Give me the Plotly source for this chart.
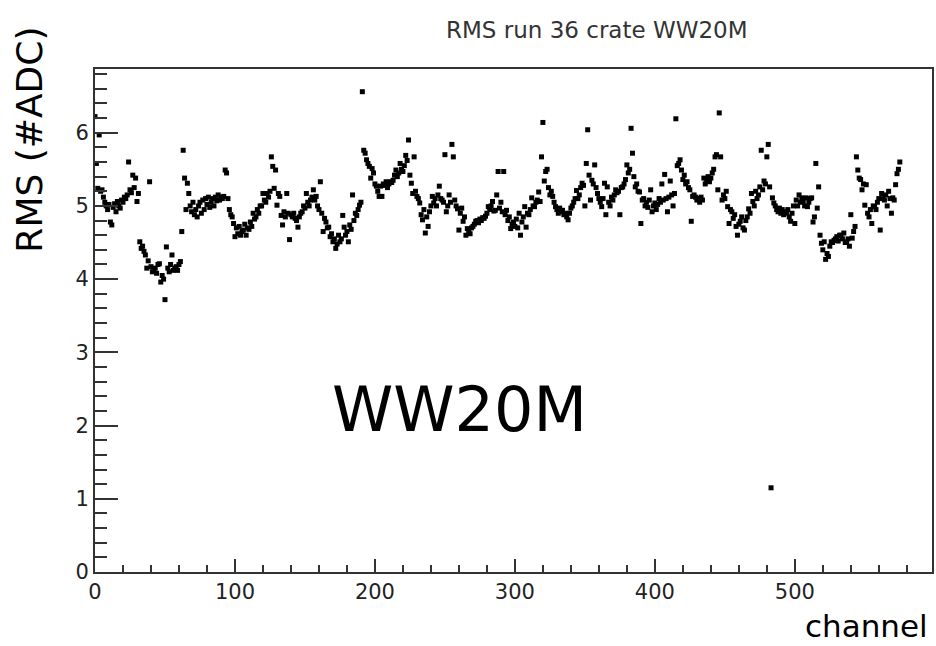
import plotly.graph_objects as go

# RMS per channel (channels 0..575)
rms = [
    6.22, 5.58, 5.24, 5.97, 5.20, 5.22, 5.12, 5.05, 5.00, 4.95, 5.02, 4.78, 4.74, 4.98, 5.03, 4.92,
    5.06, 5.00, 4.97, 5.08, 5.05, 5.12, 5.10, 5.15, 5.60, 5.22, 5.18, 5.42, 5.25, 5.38, 5.06, 5.17,
    4.51, 4.42, 4.45, 4.38, 4.33, 4.15, 4.25, 5.33, 4.17, 4.10, 4.12, 4.15, 4.08, 4.20, 4.21, 3.96,
    4.05, 4.00, 3.72, 4.44, 4.15, 4.10, 4.20, 4.33, 4.12, 4.15, 4.17, 4.12, 4.20, 4.24, 4.65, 5.76,
    5.38, 4.95, 5.31, 5.17, 5.00, 4.92, 5.05, 4.88, 4.95, 4.85, 5.00, 5.05, 4.90, 5.08, 4.95, 5.10,
    5.02, 5.12, 4.98, 5.05, 5.10, 5.00, 5.12, 5.07, 5.15, 5.08, 5.12, 5.10, 5.13, 5.49, 5.45, 5.10,
    4.95, 4.88, 4.85, 4.76, 4.58, 4.70, 4.62, 4.72, 4.60, 4.65, 4.67, 4.75, 4.60, 4.70, 4.68, 4.78,
    4.72, 4.90, 4.82, 4.85, 4.95, 4.90, 5.00, 5.00, 5.17, 5.08, 5.05, 5.17, 5.12, 5.20, 5.67, 5.54,
    5.24, 5.49, 5.01, 5.17, 5.13, 4.87, 4.74, 4.92, 4.85, 5.17, 4.90, 4.54, 4.88, 4.85, 4.90, 4.83,
    4.80, 4.71, 4.85, 4.90, 4.92, 5.00, 4.97, 5.17, 5.05, 5.00, 5.08, 5.12, 5.22, 5.08, 5.13, 5.00,
    4.95, 5.33, 4.90, 4.65, 4.83, 4.78, 4.70, 4.71, 4.58, 4.62, 4.51, 4.55, 4.42, 4.48, 4.60, 4.51,
    4.55, 4.87, 4.71, 4.60, 4.65, 4.51, 4.74, 4.68, 5.15, 4.80, 4.90, 4.87, 4.95, 5.01, 5.05, 6.56,
    5.76, 5.72, 5.63, 5.58, 5.54, 5.38, 5.51, 5.45, 5.30, 5.27, 5.20, 5.13, 5.27, 5.13, 5.30, 5.28,
    5.33, 5.25, 5.30, 5.33, 5.32, 5.35, 5.42, 5.49, 5.40, 5.45, 5.58, 5.50, 5.47, 5.55, 5.69, 5.62,
    5.90, 5.42, 5.31, 5.17, 5.67, 5.20, 5.13, 5.10, 5.04, 4.88, 4.81, 4.95, 4.63, 4.85, 4.72, 4.92,
    5.00, 5.13, 5.04, 5.10, 5.00, 5.15, 5.27, 5.10, 5.08, 5.05, 5.70, 4.92, 5.00, 5.15, 5.05, 5.84,
    5.67, 5.08, 5.00, 4.96, 4.67, 4.90, 4.97, 4.79, 4.85, 4.60, 4.69, 4.65, 4.62, 4.70, 4.72, 4.75,
    4.79, 4.80, 4.77, 4.82, 4.80, 4.84, 4.83, 4.86, 4.90, 4.99, 4.95, 5.00, 5.06, 4.93, 4.94, 5.15,
    5.47, 4.97, 5.05, 4.92, 5.47, 4.88, 4.94, 4.80, 4.85, 4.69, 4.75, 4.78, 4.72, 4.82, 4.70, 4.90,
    4.60, 4.78, 4.85, 4.99, 4.71, 4.90, 4.88, 4.95, 5.11, 5.00, 4.99, 5.05, 5.08, 5.19, 5.06, 5.67,
    6.14, 5.34, 5.47, 5.50, 5.25, 5.15, 5.20, 5.13, 5.05, 4.99, 4.95, 4.90, 4.97, 4.92, 4.94, 4.88,
    4.90, 4.85, 4.81, 4.90, 4.97, 5.00, 5.05, 5.10, 5.21, 5.10, 5.15, 5.25, 5.31, 5.28, 5.00, 5.58,
    6.04, 5.42, 5.08, 5.35, 5.30, 5.56, 5.25, 5.17, 5.10, 5.05, 4.99, 5.10, 5.31, 4.88, 5.26, 5.05,
    5.00, 5.12, 5.08, 5.15, 5.22, 5.18, 5.20, 4.88, 5.25, 5.26, 5.30, 5.36, 5.56, 5.45, 5.50, 6.06,
    5.72, 5.40, 5.26, 5.30, 5.20, 5.19, 4.76, 5.08, 5.10, 5.00, 5.05, 4.98, 5.08, 5.22, 4.92, 5.00,
    5.04, 4.95, 5.02, 5.10, 5.05, 5.30, 5.08, 5.43, 5.10, 4.92, 5.12, 5.34, 5.15, 5.00, 5.17, 6.19,
    5.55, 5.58, 5.63, 5.49, 5.36, 5.42, 5.30, 5.33, 5.25, 5.22, 4.79, 5.13, 5.15, 5.12, 5.08, 5.10,
    5.05, 5.12, 5.08, 5.38, 5.30, 5.35, 5.40, 5.33, 5.38, 5.45, 5.50, 5.67, 5.70, 5.22, 6.27, 5.67,
    5.08, 5.15, 5.10, 5.20, 4.99, 4.76, 4.95, 4.92, 4.83, 4.88, 4.72, 4.60, 4.75, 4.79, 4.85, 4.70,
    4.67, 4.80, 4.85, 4.96, 4.90, 5.17, 5.06, 5.00, 5.20, 5.10, 5.15, 5.26, 5.76, 5.22, 5.34, 5.30,
    5.67, 5.84, 5.26, 1.15, 5.11, 5.04, 5.00, 4.95, 4.92, 4.97, 4.90, 4.95, 4.88, 4.92, 4.90, 4.95,
    4.85, 4.79, 4.90, 5.00, 4.76, 5.08, 5.00, 5.15, 5.05, 5.11, 5.06, 5.00, 5.11, 4.99, 5.05, 5.10,
    5.11, 4.78, 4.85, 5.58, 4.97, 5.26, 4.60, 4.49, 4.40, 4.51, 4.27, 4.35, 4.31, 4.45, 4.51, 4.50,
    4.53, 4.55, 4.58, 4.52, 4.60, 4.60, 4.55, 4.63, 4.50, 4.51, 4.55, 4.45, 4.88, 4.56, 4.65, 4.72,
    5.67, 5.49, 5.38, 5.36, 5.22, 5.30, 5.01, 5.29, 4.90, 4.85, 4.95, 4.76, 5.00, 4.99, 4.95, 5.05,
    5.10, 4.67, 5.17, 5.10, 5.08, 5.15, 5.00, 5.20, 5.10, 4.90, 5.11, 5.08, 5.29, 5.44, 5.50, 5.60,
]
channels = list(range(len(rms)))

title_text = "RMS run 36 crate WW20M"
y_title = "RMS (#ADC)"
x_title = "channel"
big_label = "WW20M"

fig = go.Figure()
fig.add_trace(go.Scatter(
    x=channels, y=rms, mode="markers",
    marker=dict(symbol="square", size=5, color="black", line=dict(width=0)),
    showlegend=False, hoverinfo="x+y",
))

tickfont = dict(family="DejaVu Sans", size=21, color="#222")
fig.update_xaxes(
    range=[0, 598], showgrid=False, zeroline=False, automargin=False,
    showline=True, linecolor="#333", linewidth=2, mirror=True,
    ticks="inside", ticklen=13, tickwidth=1.5, tickcolor="#333",
    tick0=0, dtick=100, tickfont=tickfont,
    minor=dict(ticks="inside", ticklen=7, tickwidth=1.5, tickcolor="#333", dtick=20, tick0=0, showgrid=False),
)
fig.update_yaxes(
    range=[0, 6.87], showgrid=False, zeroline=False, automargin=False,
    showline=True, linecolor="#333", linewidth=2, mirror=True,
    ticks="inside", ticklen=23, tickwidth=1.5, tickcolor="#333",
    tick0=0, dtick=1, tickfont=tickfont,
    minor=dict(ticks="inside", ticklen=12, tickwidth=1.5, tickcolor="#333", dtick=0.2, tick0=0, showgrid=False),
)

fig.update_layout(
    width=936, height=646,
    margin=dict(l=95, r=4, t=69, b=73.5),
    paper_bgcolor="white", plot_bgcolor="white",
    annotations=[
        dict(text=title_text, xref="paper", yref="paper", x=0.6, y=1.0775,
             xanchor="center", yanchor="middle", showarrow=False,
             font=dict(family="DejaVu Sans", size=23, color="#333")),
        dict(text=y_title, xref="paper", yref="paper", x=-0.078, y=0.859,
             xanchor="center", yanchor="middle", showarrow=False, textangle=-90,
             font=dict(family="Comic Sans MS, DejaVu Sans", size=36, color="black")),
        dict(text=x_title, xref="paper", yref="paper", x=0.998, y=-0.108,
             xanchor="right", yanchor="middle", showarrow=False,
             font=dict(family="Comic Sans MS, DejaVu Sans", size=31, color="black")),
        dict(text=big_label, xref="paper", yref="paper", x=0.436, y=0.323,
             xanchor="center", yanchor="middle", showarrow=False,
             font=dict(family="Comic Sans MS, DejaVu Sans", size=62, color="black")),
    ],
)

# remove the default page margin so the 936x646 figure fills the window exactly
fig.write_html(
    "out.html",
    config={"displayModeBar": False},
    post_script="document.body.style.margin='0';document.body.style.overflow='hidden';",
)
